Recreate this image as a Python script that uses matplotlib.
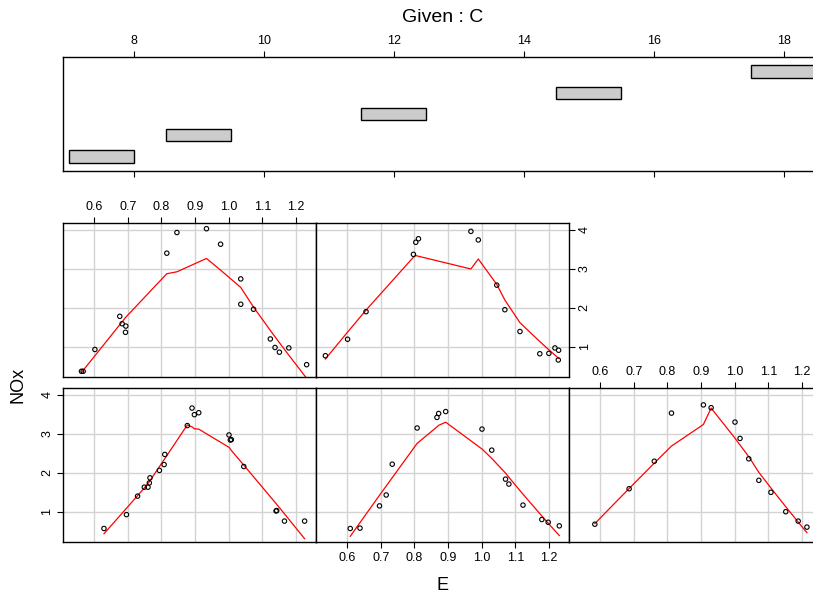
import matplotlib
matplotlib.use('Agg')
import matplotlib.pyplot as plt
import numpy as np

plt.rcParams['font.family'] = ['Liberation Sans', 'DejaVu Sans']

# ethanol engine data, split by compression ratio C
E_75 = [0.629, 0.696, 0.729, 0.749, 0.760, 0.764, 0.766, 0.794, 0.808, 0.810, 0.877,
        0.891, 0.898, 0.911, 1.001, 1.005, 1.008, 1.045, 1.141, 1.143, 1.166, 1.226]
NOx_75 = [0.57, 0.926, 1.40, 1.63, 1.63, 1.74, 1.87, 2.06, 2.21, 2.47, 3.21,
          3.66, 3.49, 3.54, 2.97, 2.84, 2.85, 2.16, 1.02, 1.03, 0.76, 0.76]

E_9 = [0.609, 0.638, 0.696, 0.716, 0.734, 0.808, 0.867, 0.872, 0.893, 1.001, 1.030,
       1.071, 1.081, 1.123, 1.179, 1.198, 1.231]
NOx_9 = [0.57, 0.58, 1.15, 1.43, 2.22, 3.148, 3.42, 3.52, 3.57, 3.120, 2.58,
         1.836, 1.71, 1.170, 0.80, 0.73, 0.638]

E_12 = [0.584, 0.686, 0.761, 0.812, 0.907, 0.930, 1.001, 1.016, 1.042, 1.072, 1.108,
        1.152, 1.189, 1.215]
NOx_12 = [0.68, 1.590, 2.295, 3.53, 3.741, 3.669, 3.30, 2.881, 2.358, 1.806, 1.498,
          1.000, 0.760, 0.606]

E_15 = [0.562, 0.567, 0.602, 0.676, 0.683, 0.694, 0.693, 0.816, 0.846, 0.934, 0.976,
        1.036, 1.036, 1.074, 1.124, 1.138, 1.151, 1.179, 1.232]
NOx_15 = [0.37, 0.37, 0.93, 1.78, 1.59, 1.53, 1.37, 3.40, 3.93, 4.028, 3.63,
          2.74, 2.09, 1.962, 1.20, 0.981, 0.86, 0.97, 0.54]

E_18 = [0.535, 0.601, 0.656, 0.797, 0.804, 0.812, 0.968, 0.990, 1.045, 1.069, 1.114,
        1.173, 1.200, 1.218, 1.229, 1.228]
NOx_18 = [0.77, 1.192, 1.90, 3.37, 3.68, 3.77, 3.96, 3.74, 2.58, 1.95, 1.39,
          0.82, 0.83, 0.97, 0.91, 0.66]

given_lo = [7.0, 8.5, 11.5, 14.5, 17.5]
given_hi = [8.0, 9.5, 12.5, 15.5, 18.5]

groups = [(E_75, NOx_75), (E_9, NOx_9), (E_12, NOx_12), (E_15, NOx_15), (E_18, NOx_18)]


def lowess(x, y, f=2/3, iters=3):
    o = np.argsort(x, kind='stable')
    x = np.asarray(x, float)[o]
    y = np.asarray(y, float)[o]
    n = len(x)
    ns = max(2, min(n, int(f * n + 1e-7)))
    rw = np.ones(n)
    fit = np.zeros(n)
    for it in range(iters + 1):
        for i in range(n):
            d = np.abs(x - x[i])
            h = np.sort(d)[ns - 1]
            if h > 0:
                u = d / h
                w = np.where(u < 0.999, (1 - np.clip(u, 0, 1) ** 3) ** 3, 0.0)
                w[u <= 0.001] = 1.0
            else:
                w = (d == 0).astype(float)
            w = w * rw
            sw = w.sum()
            xm = (w * x).sum() / sw
            ym = (w * y).sum() / sw
            sxx = (w * (x - xm) ** 2).sum()
            if np.sqrt(sxx / sw) > 0.001 * (x[-1] - x[0]):
                b = (w * (x - xm) * (y - ym)).sum() / sxx
                fit[i] = ym + b * (x[i] - xm)
            else:
                fit[i] = ym
        if it == iters:
            break
        res = y - fit
        cmad = 6 * np.median(np.abs(res))
        if cmad == 0:
            break
        u = np.abs(res) / cmad
        rw = np.where(u < 1, (1 - u ** 2) ** 2, 0.0)
    return x, fit


allE = np.concatenate([g[0] for g in groups])
allN = np.concatenate([g[1] for g in groups])
ex = 0.04 * (allE.max() - allE.min())
ny = 0.04 * (allN.max() - allN.min())
xlim = (allE.min() - ex, allE.max() + ex)
ylim = (allN.min() - ny, allN.max() + ny)

W, H = 813, 594
fig = plt.figure(figsize=(W / 100, H / 100), dpi=100)


def box(l, t, r, b):
    return [l / W, 1 - b / H, (r - l) / W, (b - t) / H]


# conditioning panel
gax = fig.add_axes(box(63, 57, 822, 171))
for i, (lo, hi) in enumerate(zip(given_lo, given_hi)):
    gax.add_patch(plt.Rectangle((lo, i + 1 - 0.3), hi - lo, 0.6,
                                facecolor='#cccccc', edgecolor='black', lw=1))
gax.set_xlim(6.91, 18.59)
gax.set_ylim(0.3, 5.7)
gax.set_yticks([])
gax.set_xticks([8, 10, 12, 14, 16, 18])
gax.tick_params(axis='x', top=True, labeltop=True, bottom=True, labelbottom=False,
                direction='out', length=4, width=0.8, labelsize=9, pad=3)
for s in gax.spines.values():
    s.set_linewidth(1)
gax.text(0.5, 1 + 39 / 114, 'Given : C', transform=gax.transAxes,
         ha='center', va='center', fontsize=14)

col_x = [63, 316, 569, 822]
rows = {0: (388, 542), 1: (223, 377)}
xt = [0.6, 0.7, 0.8, 0.9, 1.0, 1.1, 1.2]
yt = [1, 2, 3, 4]

for k, (e, nox) in enumerate(groups):
    r, c = divmod(k, 3)
    t, b = rows[r]
    ax = fig.add_axes(box(col_x[c], t, col_x[c + 1], b))
    ax.set_xlim(*xlim)
    ax.set_ylim(*ylim)
    ax.set_xticks(xt)
    ax.set_yticks(yt)
    ax.set_xticklabels([f'{v:.1f}' for v in xt])
    ax.grid(True, color='#d3d3d3', lw=1)
    ax.set_axisbelow(True)
    ax.scatter(e, nox, s=10, facecolors='none', edgecolors='black', linewidths=0.8, zorder=3)
    sx, sy = lowess(e, nox)
    ax.plot(sx, sy, color='red', lw=0.9, zorder=2)
    for s in ax.spines.values():
        s.set_linewidth(1)

    # axis annotation alternates around the array of panels
    show_top = (k in (3, 2))
    show_bottom = (k == 1)
    show_left = (k == 0)
    show_right = (k == 4)
    ax.tick_params(axis='x', top=show_top, labeltop=show_top,
                   bottom=show_bottom, labelbottom=show_bottom,
                   direction='out', length=4, width=0.8, labelsize=9,
                   pad=3)
    ax.tick_params(axis='y', left=show_left, labelleft=show_left,
                   right=show_right, labelright=show_right,
                   direction='out', length=4, width=0.8, labelsize=9,
                   pad=3, labelrotation=90)
    for lab in ax.get_yticklabels():
        lab.set_va('center')

fig.text(442 / W, 1 - 585 / H, 'E', ha='center', va='center', fontsize=13)
fig.text(18 / W, 1 - 385 / H, 'NOx', ha='center', va='center', rotation=90, fontsize=13)

fig.savefig('out.png', dpi=100)
